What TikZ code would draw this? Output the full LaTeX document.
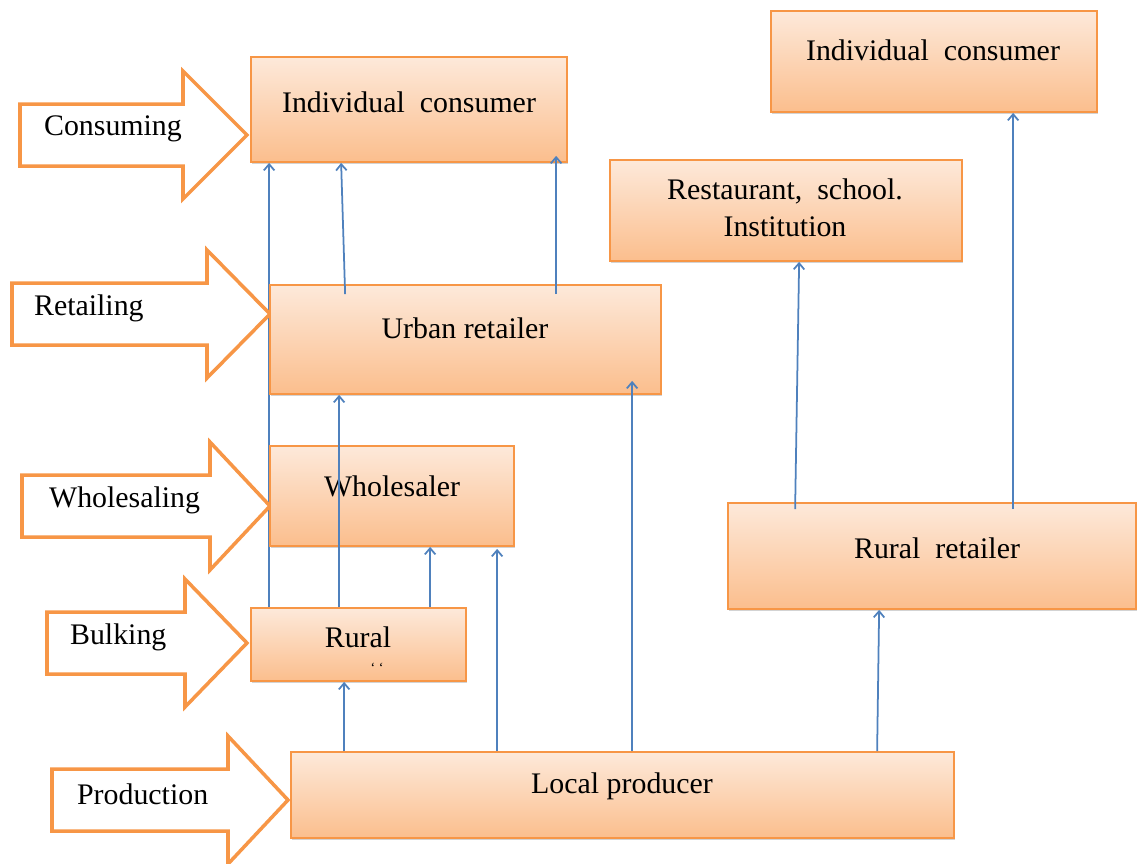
\documentclass[tikz,border=0pt]{standalone}
\usepackage{fontspec}
\setmainfont{Liberation Serif}
\usetikzlibrary{arrows.meta,positioning,calc,fit,shadows,backgrounds}
\definecolor{boxorange}{HTML}{F79646}
\definecolor{boxtop}{HTML}{FDE9DA}
\definecolor{boxbot}{HTML}{FBBE8D}
\definecolor{linkblue}{HTML}{4F81BD}

\begin{document}
\begin{tikzpicture}[x=0.02cm, y=-0.02cm,
  box/.style={draw=boxorange, line width=1pt, top color=boxtop, bottom color=boxbot, inner sep=0pt,
    drop shadow={shadow xshift=0.8pt, shadow yshift=-1.2pt, opacity=0.35}},
  lbl/.style={font=\fontsize{17}{21}\selectfont, align=center, inner sep=1pt},
  stage/.style={draw=boxorange, line width=2pt, fill=white, line join=miter},
  link/.style={draw=linkblue, line width=1pt, -{Straight Barb[length=3.5pt,width=6pt]}}]
  \useasboundingbox (0,0) rectangle (1138,863);

  % stage arrows
  \foreach \l/\b/\t/\y/\tx/\lab in {20/183/247/135/42/Consuming, 12/207/270/314/32/Retailing,
      22/210/270/506/47/Wholesaling, 47/185/247/643/68/Bulking, 52/228/288/800/75/Production} {
    \draw[stage] (\l,\y-31) -- (\b,\y-31) -- (\b,\y-64) -- (\t,\y) -- (\b,\y+64) -- (\b,\y+31) -- (\l,\y+31) -- cycle;
    \node[lbl, anchor=west] (st-\lab) at (\tx,\y-6) {\lab};
  }

  % boxes
  \node[box, fit={(251,57) (567,162)}] (ic) {};
  \node[box, fit={(771,11) (1097,112)}] (icr) {};
  \node[box, fit={(610,160) (962,261)}] (inst) {};
  \node[box, fit={(270,285) (661,394)}] (ur) {};
  \node[box, fit={(270,446) (514,546)}] (wh) {};
  \node[box, fit={(728,503) (1136,609)}] (rr) {};
  \node[box, fit={(251,608) (466,681)}] (rc) {};
  \node[box, fit={(291,752) (954,838)}] (lp) {};

  % box texts
  \node[lbl] (ic-t) at (409,102) {Individual\ \ consumer};
  \node[lbl] (icr-t) at (933,50) {Individual\ \ consumer};
  \node[lbl] (inst-t) at (785,208) {Restaurant,\ \ school.\\Institution};
  \node[lbl] (ur-t) at (465,328) {Urban retailer};
  \node[lbl] (wh-t) at (392,486) {Wholesaler};
  \node[lbl] (rr-t) at (937,548) {Rural\ \ retailer};
  \node[lbl] (rc-t) at (358,637) {Rural};
  \node[font=\footnotesize, inner sep=0pt] (rc-m) at (377,668) {‘\ ‘};
  \node[lbl] (lp-t) at (622,786) {Local producer};

  % links
  \begin{pgfonlayer}{background}
    \draw[link] ($(rc.north west)+(19,0)$) -- ($(ic.south west)+(19,0)$);
  \end{pgfonlayer}
  \draw[link] ($(ur.north west)+(76,10)$) -- ($(ic.south west)+(91,0)$);
  \draw[link] ($(ur.north west)+(287,10)$) -- ($(ic.south west)+(306,-7)$);
  \draw[link] ($(rc.north west)+(89,0)$) -- ($(ur.south west)+(70,0)$);
  \draw[link] ($(rc.north west)+(180,0)$) -- ($(wh.south west)+(161,0)$);
  \draw[link] ($(lp.north west)+(207,0)$) -- ($(wh.south west)+(228,2)$);
  \draw[link] ($(lp.north west)+(54,0)$) -- ($(rc.south west)+(94,0)$);
  \draw[link] ($(lp.north west)+(342,0)$) -- ($(ur.south west)+(363,-14)$);
  \draw[link] ($(lp.north west)+(587,0)$) -- ($(rr.south west)+(152,0)$);
  \draw[link] ($(rr.north west)+(68,7)$) -- ($(inst.south west)+(190,0)$);
  \draw[link] ($(rr.north west)+(286,7)$) -- ($(icr.south west)+(243,0)$);
\end{tikzpicture}
\end{document}
